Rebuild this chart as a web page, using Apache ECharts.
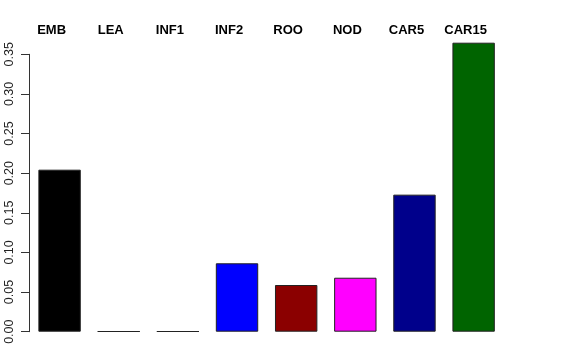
<!DOCTYPE html>
<html><head><meta charset="utf-8">
<script src="https://cdn.jsdelivr.net/npm/echarts@6/dist/echarts.min.js"></script>
<style>html,body{margin:0;padding:0;background:#fff}#c{width:576px;height:360px}</style>
</head><body><div id="c"></div>
<script>
const categories = ["EMB","LEA","INF1","INF2","ROO","NOD","CAR5","CAR15"];
const values = [0.2044, 0.0005, 0.0005, 0.0863, 0.0589, 0.0681, 0.1729, 0.3646];
const colors = ["#000000","#FF0000","#00A000","#0000FF","#8B0000","#FF00FF","#00008B","#006400"];
const yTicks = [0, 0.05, 0.10, 0.15, 0.20, 0.25, 0.30, 0.35];

const chart = echarts.init(document.getElementById('c'), null, {renderer:'canvas'});
chart.setOption({
  animation:false,
  backgroundColor:'#fff',
  grid:[
    {left:30, top:42.7, width:473.2, height:289},
    {left:29, top:54.3, width:473.2, height:277.4}
  ],
  xAxis:[
    {type:'category', gridIndex:0, data:categories, position:'top',
     axisLine:{show:false}, axisTick:{show:false},
     axisLabel:{fontFamily:'Liberation Sans', fontWeight:'bold', fontSize:13, color:'#000', margin:6,
       padding:[0,16,0,0]}},
    {type:'value', gridIndex:1, show:false}
  ],
  yAxis:[
    {type:'value', gridIndex:0, min:0, max:0.3646, show:false, splitLine:{show:false}},
    {type:'value', gridIndex:1, min:yTicks[0], max:yTicks[yTicks.length-1], interval:0.05,
     axisLine:{show:true, lineStyle:{color:'#333', width:1}},
     axisTick:{show:true, length:8, lineStyle:{color:'#333'}},
     splitLine:{show:false},
     axisLabel:{rotate:90, fontFamily:'Liberation Sans', fontSize:12.5, color:'#222', margin:13,
       formatter:v=>v.toFixed(2)}}
  ],
  series:[{
    type:'bar', xAxisIndex:0, yAxisIndex:0, barWidth:42.4,
    data: values.map((v,i)=>({value:v, itemStyle:{color:colors[i]}})),
    itemStyle:{borderColor:'#222', borderWidth:1}
  }]
});
</script></body></html>
